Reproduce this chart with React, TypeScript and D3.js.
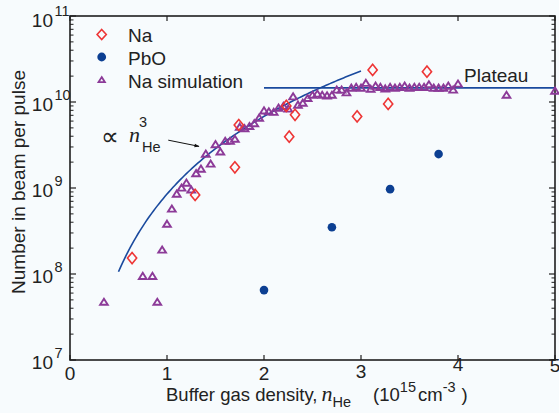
import React from "react";
import * as d3 from "d3";

// ---- data ----
const naX = [0.64, 1.29, 1.70, 1.74, 2.23, 2.26, 2.32, 2.96, 3.12, 3.28, 3.68];
const naY = [1.53e8, 8.3e8, 1.74e9, 5.4e9, 9.0e9, 3.95e9, 7.1e9, 6.8e9, 2.36e10, 9.5e9, 2.25e10];

const pboX = [2.0, 2.7, 3.3, 3.8];
const pboY = [6.5e7, 3.5e8, 9.7e8, 2.48e9];

const simX = [
  0.35, 0.75, 0.85, 0.90, 0.95, 1.00, 1.05, 1.10, 1.15, 1.20, 1.25, 1.30, 1.35, 1.40, 1.45, 1.50,
  1.55, 1.60, 1.65, 1.70, 1.75, 1.80, 1.85, 1.90, 1.95, 2.00, 2.05, 2.10, 2.15, 2.20, 2.25, 2.30,
  2.35, 2.40, 2.45, 2.50, 2.55, 2.60, 2.65, 2.70, 2.75, 2.80, 2.85, 2.90, 2.95, 3.00, 3.05, 3.10,
  3.15, 3.20, 3.25, 3.30, 3.35, 3.40, 3.45, 3.50, 3.55, 3.60, 3.65, 3.70, 3.75, 3.80, 3.85, 3.90,
  3.95, 4.00, 4.50, 5.00,
];
const simY = [
  4.7e7, 9.4e7, 9.4e7, 4.7e7, 1.9e8, 3.8e8, 5.7e8, 8.5e8, 1.0e9, 1.14e9, 9.5e8, 1.47e9, 1.66e9, 2.48e9, 1.9e9, 3.2e9,
  2.63e9, 3.5e9, 3.5e9, 3.7e9, 5.1e9, 4.9e9, 5.2e9, 5.6e9, 6.5e9, 7.9e9, 7.7e9, 7.6e9, 8.5e9, 8.9e9, 8.3e9, 1.15e10,
  9.2e9, 9.7e9, 1.1e10, 1.2e10, 1.24e10, 1.2e10, 1.18e10, 1.2e10, 1.38e10, 1.38e10, 1.28e10, 1.45e10, 1.48e10, 1.45e10, 1.65e10, 1.41e10,
  1.53e10, 1.48e10, 1.42e10, 1.48e10, 1.45e10, 1.48e10, 1.53e10, 1.45e10, 1.48e10, 1.48e10, 1.48e10, 1.59e10, 1.45e10, 1.45e10, 1.45e10, 1.53e10,
  1.38e10, 1.62e10, 1.2e10, 1.34e10,
];

// n^3 guide curve and plateau
const cubicCoef = 8.5e8;
const cubicRange = [0.5, 3.0];
const plateauValue = 1.46e10;
const plateauRange = [2.0, 5.0];

const xTicks = [0, 1, 2, 3, 4, 5];
const yDecades = [7, 8, 9, 10, 11];

const legendLabels = ["Na", "PbO", "Na simulation"];

// ---- style ----
const W = 559;
const H = 413;
const RED = "#ee3535";
const BLUE = "#0c3f92";
const PURPLE = "#8c3a98";
const LINE = "#1a4a9e";
const AXIS = "#1e1e1e";
const FONT = "'Liberation Sans', Arial, Helvetica, sans-serif";
const SERIF = "'Liberation Serif', 'Times New Roman', serif";

const x = d3.scaleLinear().domain([0, 5]).range([70, 555]);
const y = d3.scaleLog().domain([1e7, 1e11]).range([360, 16]);

const diamond = (cx: number, cy: number, w = 4.6, h = 5.6) =>
  `M${cx},${cy - h}L${cx + w},${cy}L${cx},${cy + h}L${cx - w},${cy}Z`;
const triangle = (cx: number, cy: number, s = 3.5) =>
  `M${cx},${cy - s}L${cx + s * 1.1},${cy + s * 0.75}L${cx - s * 1.1},${cy + s * 0.75}Z`;

export default function App() {
  const cubicPts = d3.range(cubicRange[0], cubicRange[1] + 1e-9, 0.02).map((n) => [n, cubicCoef * n * n * n] as [number, number]);
  const cubicPath = d3
    .line<[number, number]>()
    .x((d) => x(d[0]))
    .y((d) => y(d[1]))(cubicPts) as string;

  const minorTicks: number[] = [];
  yDecades.slice(0, -1).forEach((e) => {
    for (let k = 2; k <= 9; k++) minorTicks.push(k * Math.pow(10, e));
  });

  const [x0, x1] = x.range();
  const [yb, yt] = y.range();

  const xLabelDy: Record<number, number> = { 0: 0, 1: 0, 2: 0, 3: -2, 4: -9, 5: -8 };

  const arrowStart: [number, number] = [1.013, 3.6e9];
  const arrowEnd: [number, number] = [1.33, 3.05e9];

  return (
    <svg width={W} height={H} style={{ position: "absolute", left: 0, top: 0, background: "#f7fbfd" }} fontFamily={FONT}>
      <rect x={0} y={0} width={W} height={H} fill="#f7fbfd" />
      <defs>
        <marker id="arr" viewBox="0 0 10 10" refX="9" refY="5" markerWidth="7" markerHeight="5" orient="auto" markerUnits="userSpaceOnUse">
          <path d="M0,1.5L10,5L0,8.5Z" fill="#111" />
        </marker>
      </defs>

      {/* axes box */}
      <rect x={x0} y={yt} width={x1 - x0} height={yb - yt} fill="none" stroke={AXIS} strokeWidth={1.6} />

      {/* x ticks */}
      {xTicks.map((t) => (
        <g key={"xt" + t}>
          <line x1={x(t)} x2={x(t)} y1={yb} y2={yb - 5} stroke={AXIS} strokeWidth={1.2} />
          <line x1={x(t)} x2={x(t)} y1={yt} y2={yt + 5} stroke={AXIS} strokeWidth={1.2} />
          <text x={x(t)} y={380 + xLabelDy[t]} textAnchor="middle" fontSize={19} fill="#222">
            {t}
          </text>
        </g>
      ))}

      {/* y major ticks */}
      {yDecades.map((e) => {
        const v = Math.pow(10, e);
        const yy = y(v);
        const off = e === 11 ? 11 : 8.5;
        return (
          <g key={"yt" + e}>
            <line x1={x0} x2={x0 + 6} y1={yy} y2={yy} stroke={AXIS} strokeWidth={1.2} />
            <line x1={x1} x2={x1 - 6} y1={yy} y2={yy} stroke={AXIS} strokeWidth={1.2} />
            <text x={53} y={yy + off} textAnchor="end" fontSize={19} fill="#222">
              10
            </text>
            <text x={54.5} y={yy + off - 11} textAnchor="start" fontSize={14.5} fill="#222">
              {e}
            </text>
          </g>
        );
      })}
      {minorTicks.map((v, i) => (
        <g key={"ym" + i}>
          <line x1={x0} x2={x0 + 3.5} y1={y(v)} y2={y(v)} stroke={AXIS} strokeWidth={1} />
          <line x1={x1} x2={x1 - 3.5} y1={y(v)} y2={y(v)} stroke={AXIS} strokeWidth={1} />
        </g>
      ))}

      {/* axis titles */}
      <text transform="translate(25,182) rotate(-90)" textAnchor="middle" fontSize={19} fill="#222">
        Number in beam per pulse
      </text>
      <text x={166} y={401} fontSize={18.5} fill="#222">
        Buffer gas density,
        <tspan fontFamily={SERIF} fontStyle="italic" fontSize={22} dx={4}>n</tspan>
        <tspan fontSize={14.5} dy={6}>He</tspan>
        <tspan dy={-6} dx={22}>(10</tspan>
        <tspan fontSize={14.5} dy={-9}>15</tspan>
        <tspan dy={9} dx={2}>cm</tspan>
        <tspan fontSize={14.5} dy={-9}>-3</tspan>
        <tspan dy={9} dx={6}>)</tspan>
      </text>

      {/* model lines */}
      <path d={cubicPath} fill="none" stroke={LINE} strokeWidth={1.6} />
      <line x1={x(plateauRange[0])} x2={x(plateauRange[1])} y1={y(plateauValue)} y2={y(plateauValue)} stroke={LINE} strokeWidth={1.6} />
      <text x={464} y={81.5} fontSize={19} fill="#222">
        Plateau
      </text>

      {/* n^3 annotation */}
      <text x={101} y={145} fontSize={25} fill="#222">∝</text>
      <text x={129} y={142} fontFamily={SERIF} fontStyle="italic" fontSize={22} fill="#222">n</text>
      <text x={139} y={127} fontSize={14.5} fill="#222">3</text>
      <text x={142} y={152} fontSize={14.5} fill="#222">He</text>
      <line
        x1={x(arrowStart[0])}
        y1={y(arrowStart[1])}
        x2={x(arrowEnd[0])}
        y2={y(arrowEnd[1])}
        stroke="#111"
        strokeWidth={1}
        markerEnd="url(#arr)"
      />

      {/* simulation triangles */}
      {simX.map((n, i) => (
        <path key={"s" + i} d={triangle(x(n), y(simY[i]))} fill="none" stroke={PURPLE} strokeWidth={1.9} />
      ))}

      {/* Na diamonds */}
      {naX.map((n, i) => (
        <path key={"n" + i} d={diamond(x(n), y(naY[i]))} fill="none" stroke={RED} strokeWidth={1.6} />
      ))}

      {/* PbO dots */}
      {pboX.map((n, i) => (
        <circle key={"p" + i} cx={x(n)} cy={y(pboY[i])} r={4.3} fill={BLUE} />
      ))}

      {/* legend */}
      <path d={diamond(101.7, 34.5, 4.6, 5)} fill="none" stroke={RED} strokeWidth={1.6} />
      <circle cx={101.7} cy={57} r={4.4} fill={BLUE} />
      <path d={triangle(101.7, 80, 2.9)} fill="none" stroke={PURPLE} strokeWidth={1.8} />
      {legendLabels.map((l, i) => (
        <text key={l} x={128} y={41.7 + i * 23} fontSize={19} fill="#222">
          {l}
        </text>
      ))}
    </svg>
  );
}
